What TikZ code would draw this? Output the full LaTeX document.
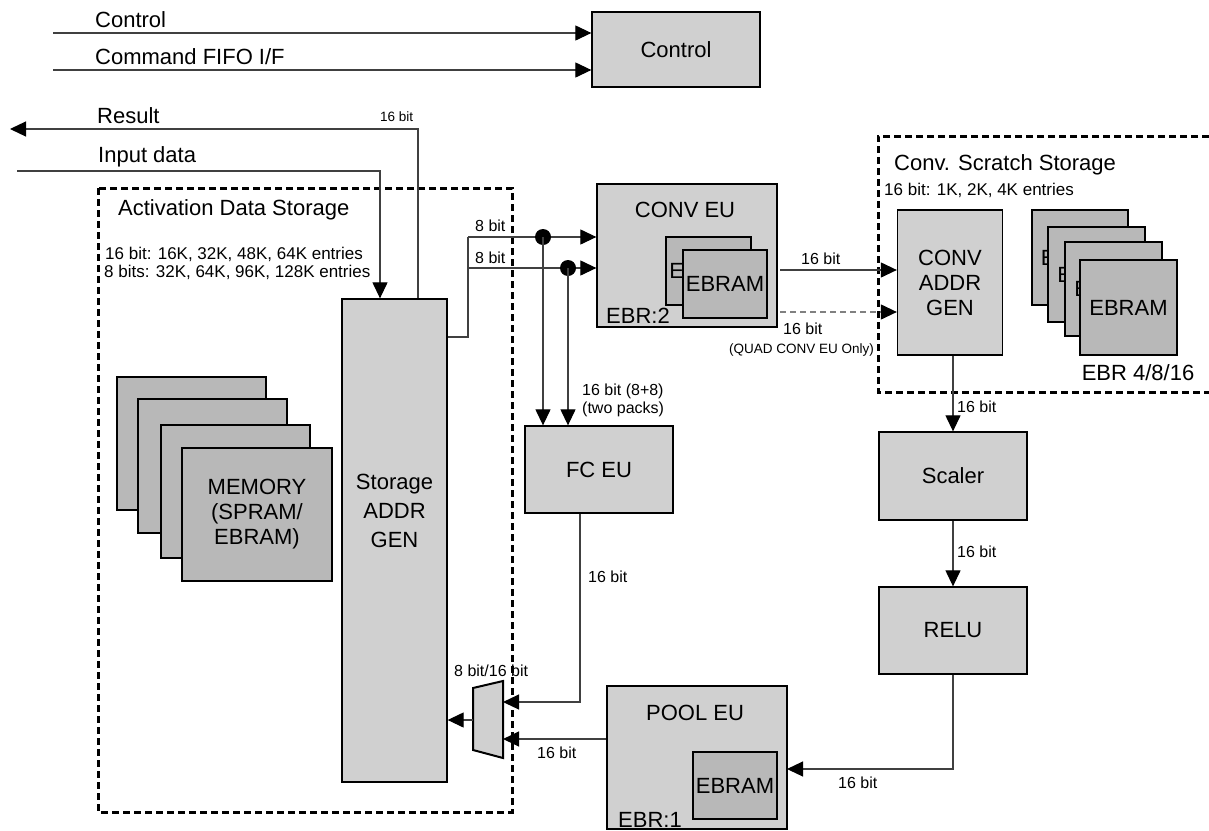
\documentclass[tikz,border=0pt]{standalone}
\usepackage{fontspec}
\setmainfont{Liberation Sans}
\usetikzlibrary{arrows.meta}
\definecolor{boxgray}{HTML}{D0D0D0}
\definecolor{ramgray}{HTML}{B8B8B8}
\definecolor{wirec}{HTML}{404040}
\newcommand{\fbig}{\fontsize{22}{25}\selectfont}
\newcommand{\ftall}{\fontsize{22}{29}\selectfont}
\newcommand{\flab}{\fontsize{16}{19}\selectfont}
\newcommand{\fent}{\fontsize{17}{20}\selectfont}
\newcommand{\fsm}{\fontsize{13.5}{16}\selectfont}
\begin{document}
\begin{tikzpicture}[x=1pt,y=-1pt,
  box/.style={draw=black, line width=1.3pt, fill=boxgray, inner sep=0pt, font=\fbig, align=center},
  ram/.style={box, fill=ramgray},
  conn/.style={draw=wirec, line width=1.2pt},
  arr/.style={conn, -{Triangle[length=16pt,width=15pt,color=black]}},
  grp/.style={draw=black, line width=3pt, dash pattern=on 7pt off 4pt},
  lbl/.style={anchor=base west, inner sep=0pt, font=\flab},
  txt/.style={inner sep=0pt, font=\fbig, align=center},
  dot/.style={circle, fill=black, minimum size=16pt, inner sep=0pt}
]
\useasboundingbox[fill=white] (0,0) rectangle (1209,830);

% groups
\draw[grp] (98,188) rectangle (512,812);
\draw[grp] (1209,136) -- (878,136) -- (878,392) -- (1209,392);

% control
\node[box, minimum width=168pt, minimum height=75pt] (ctrl) at (676,49.5) {Control};
\node[lbl, font=\fbig] at (95,27) {Control};
\node[lbl, font=\fbig] at (95,64) {Command FIFO I/F};
\coordinate (c1) at (53,33);
\coordinate (c2) at (53,70);
\draw[arr] (c1) -- (c1 -| ctrl.west);
\draw[arr] (c2) -- (c2 -| ctrl.west);

% activation data storage
\node[lbl, font=\fbig] at (97,123) {Result};
\node[lbl, font=\fbig] at (98,162) {Input data};
\node[lbl, font=\fsm] at (380,121) {16 bit};
\node[lbl, font=\fbig] at (118,215) {Activation Data Storage};
\node[lbl, font=\fent] at (105,259) {16 bit: 16K, 32K, 48K, 64K entries};
\node[lbl, font=\fent] at (104,277) {8 bits: 32K, 64K, 96K, 128K entries};

\node[box, minimum width=105pt, minimum height=483pt] (sag) at (394.5,540.5) {};
\node[txt, font=\ftall] (sagt) at (394.5,511) {Storage\\ADDR\\GEN};

\node[ram, minimum width=149pt, minimum height=133pt] (m1) at (191.5,443.5) {};
\node[ram, minimum width=149pt, minimum height=134pt] (m2) at (212.5,466) {};
\node[ram, minimum width=149pt, minimum height=133pt] (m3) at (235.5,491.5) {};
\node[ram, minimum width=150pt, minimum height=133pt] (m4) at (257,514.5) {MEMORY\\(SPRAM/\\EBRAM)};

\coordinate (resOut) at (10,129);
\coordinate (inData) at (17,171);
\draw[arr] ([xshift=23.5pt]sag.north) |- (resOut);
\draw[arr] (inData) -| ([xshift=-14.5pt]sag.north);

% CONV EU
\node[box, minimum width=180pt, minimum height=143pt] (conv) at (687,255.5) {};
\node[txt] at (685,210) {CONV EU};
\node[lbl, font=\fbig] at (606,323) {EBR:2};
\node[ram, minimum width=85pt, minimum height=68pt] (ce1) at (708.5,271) {EBRAM};
\node[ram, minimum width=84pt, minimum height=68pt] (ce2) at (725,284) {EBRAM};

% branch from storage
\coordinate (j) at (468,337);
\coordinate (b1) at (468,237);
\coordinate (b2) at (468,268);
\draw[conn] (sag.east |- j) -- (j) -- (b1);
\draw[arr] (b1) -- (b1 -| conv.west);
\draw[arr] (b2) -- (b2 -| conv.west);
\node[lbl] at (475,231) {8 bit};
\node[lbl] at (475,263) {8 bit};
\node[dot] (d1) at (543,237) {};
\node[dot] (d2) at (568,268) {};

% FC EU
\node[box, minimum width=148pt, minimum height=87pt] (fc) at (599,469.5) {FC EU};
\draw[arr] (d1.center) -- (d1 |- fc.north);
\draw[arr] (d2.center) -- (d2 |- fc.north);
\node[lbl] at (582,395) {16 bit (8+8)};
\node[lbl] at (582,413) {(two packs)};

% conv scratch storage
\node[lbl, font=\fbig] at (894,170) {Conv. Scratch Storage};
\node[lbl, font=\fent] at (884,195) {16 bit: 1K, 2K, 4K entries};
\node[box, minimum width=105pt, minimum height=145pt] (cag) at (950,282.5) {};
\node[txt] at (950,283) {CONV\\ADDR\\GEN};
\node[ram, minimum width=96pt, minimum height=95pt] (se1) at (1080,257.5) {EBRAM};
\node[ram, minimum width=97pt, minimum height=95pt] (se2) at (1096.5,274.5) {EBRAM};
\node[ram, minimum width=97pt, minimum height=94pt] (se3) at (1113.5,289) {EBRAM};
\node[ram, minimum width=97pt, minimum height=95pt] (se4) at (1128.5,307.5) {EBRAM};
\node[txt] at (1138,373) {EBR 4/8/16};

\coordinate (o1) at (780,270);
\coordinate (o2) at (780,312);
\draw[arr] (o1) -- (o1 -| cag.west);
\draw[arr, dash pattern=on 6pt off 4pt, draw=gray] (o2) -- (o2 -| cag.west);
\node[lbl] at (801,264) {16 bit};
\node[lbl] at (783,334) {16 bit};
\node[lbl, font=\fsm] at (729,353) {(QUAD CONV EU Only)};

% scaler, relu
\node[box, minimum width=148pt, minimum height=88pt] (scaler) at (953,476) {Scaler};
\node[box, minimum width=148pt, minimum height=87pt] (relu) at (953,630.5) {RELU};
\draw[arr] (scaler.north |- cag.south) -- (scaler.north);
\draw[arr] (scaler.south) -- (relu.north);
\node[lbl] at (957,412) {16 bit};
\node[lbl] at (957,557) {16 bit};

% POOL EU
\node[box, minimum width=180pt, minimum height=143pt] (pool) at (697,757.5) {};
\node[txt] at (695,713) {POOL EU};
\node[lbl, font=\fbig] at (618,827) {EBR:1};
\node[ram, minimum width=84pt, minimum height=67pt] (pe) at (735,785.5) {EBRAM};
\coordinate (pin) at (787,769);
\draw[arr] (relu.south) |- (pin);
\node[lbl] at (838,788) {16 bit};

% mux
\draw[draw=black, line width=2pt, fill=boxgray] (473,688) -- (503,681) -- (503,758) -- (473,750) -- cycle;
\coordinate (muxin1) at (503,702);
\coordinate (muxin2) at (503,739);
\coordinate (muxout) at (473,720);
\draw[arr] ([xshift=-19pt]fc.south) |- (muxin1);
\draw[arr] (pool.west |- muxin2) -- (muxin2);
\draw[arr] (muxout) -- (muxout -| sag.east);
\node[lbl] at (454,676) {8 bit/16 bit};
\node[lbl] at (588,582) {16 bit};
\node[lbl] at (537,758) {16 bit};
\end{tikzpicture}
\end{document}
